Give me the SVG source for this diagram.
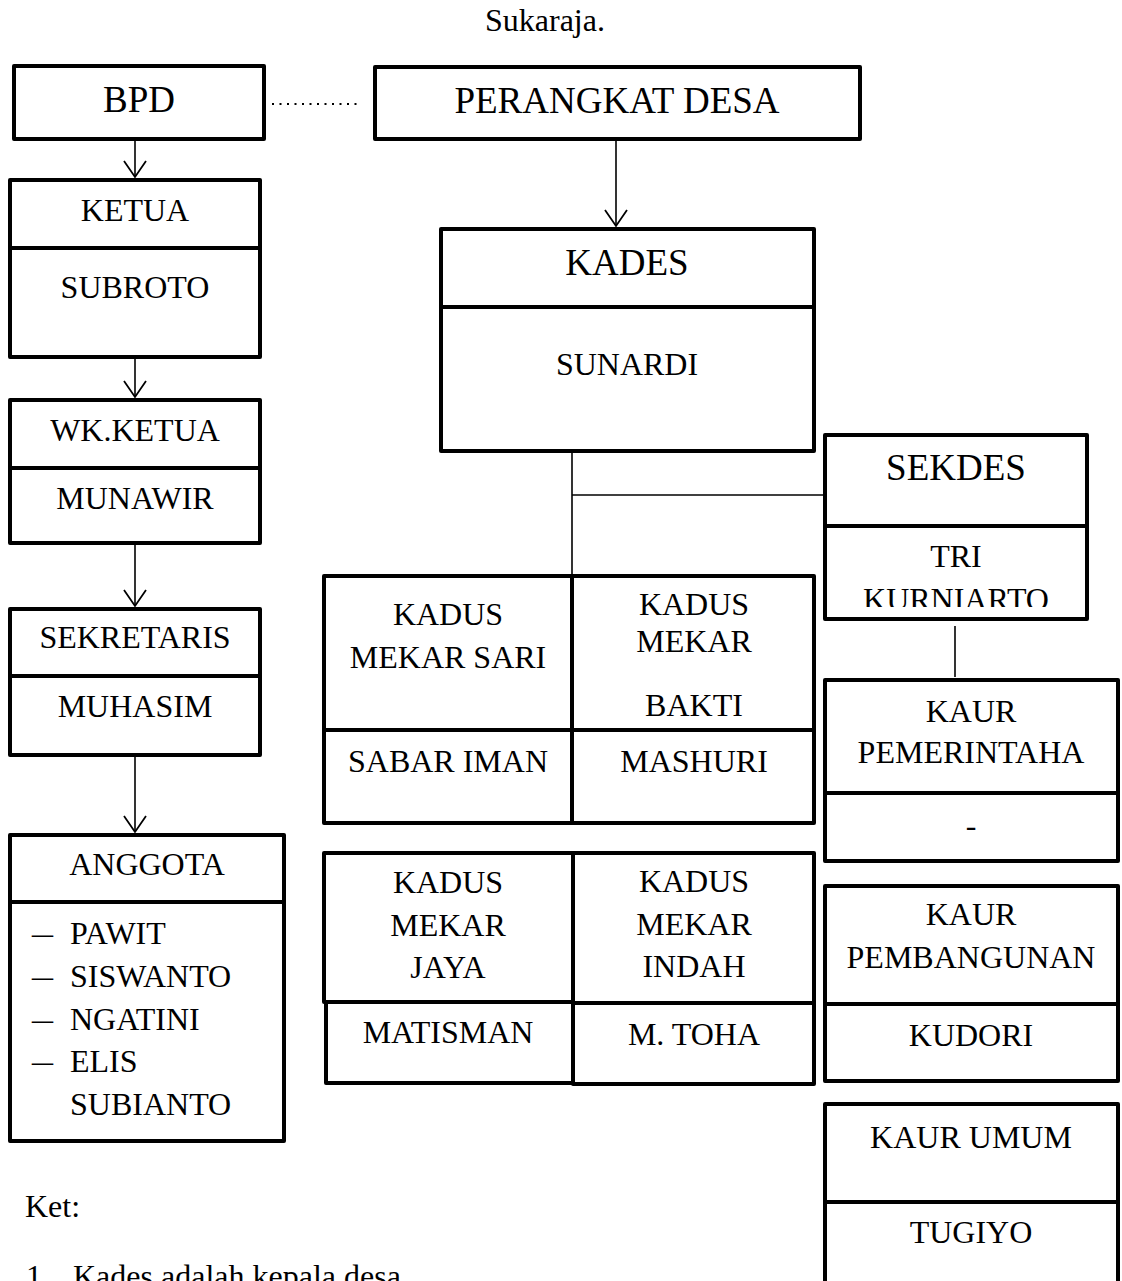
<svg xmlns="http://www.w3.org/2000/svg" width="1122" height="1281" viewBox="0 0 1122 1281">
<style>
  .box { fill: #fff; stroke: #000; stroke-width: 4; stroke-linejoin: round; }
  .div { stroke: #000; stroke-width: 4; fill: none; }
  .t { font-family: "Liberation Serif", "Times New Roman", serif; font-size: 32px; fill: #000; text-anchor: middle; }
  .big { font-size: 37px; }
  .s { text-anchor: start; }
  .conn { stroke: #000; stroke-width: 1.6; fill: none; }
  .dot { stroke: #000; stroke-width: 2; stroke-dasharray: 2 5.5; fill: none; }
</style>
<defs>
  <marker id="arr" markerUnits="userSpaceOnUse" markerWidth="30" markerHeight="30" refX="0" refY="0" orient="auto" overflow="visible">
    <path d="M-16,-11 L0,0 L-16,11" fill="none" stroke="#000" stroke-width="1.8"/>
  </marker>
  <clipPath id="clipSek"><rect x="825" y="528" width="262" height="79"/></clipPath>
</defs>
<rect width="1122" height="1281" fill="#fff"/>

<text class="t s" x="485" y="31">Sukaraja.</text>

<g id="connectors">
  <line class="dot" x1="272" y1="104" x2="362" y2="104"/>
  <line class="conn" x1="135" y1="141" x2="135" y2="177" marker-end="url(#arr)"/>
  <line class="conn" x1="135" y1="359" x2="135" y2="397" marker-end="url(#arr)"/>
  <line class="conn" x1="135" y1="545" x2="135" y2="606" marker-end="url(#arr)"/>
  <line class="conn" x1="135" y1="757" x2="135" y2="832" marker-end="url(#arr)"/>
  <line class="conn" x1="616" y1="141" x2="616" y2="226" marker-end="url(#arr)"/>
  <line class="conn" x1="572" y1="453" x2="572" y2="575"/>
  <line class="conn" x1="572" y1="495" x2="823" y2="495"/>
  <line class="conn" x1="955" y1="626" x2="955" y2="677"/>
</g>

<g id="bpd">
  <rect class="box" x="14" y="66" width="250" height="73"/>
  <text class="t big" x="139" y="112">BPD</text>
</g>

<g id="perangkat-desa">
  <rect class="box" x="375" y="67" width="485" height="72"/>
  <text class="t big" x="617" y="113">PERANGKAT DESA</text>
</g>

<g id="ketua">
  <rect class="box" x="10" y="180" width="250" height="177"/>
  <line class="div" x1="10" y1="248" x2="260" y2="248"/>
  <text class="t" x="135" y="221">KETUA</text>
  <text class="t" x="135" y="298">SUBROTO</text>
</g>

<g id="wk-ketua">
  <rect class="box" x="10" y="400" width="250" height="143"/>
  <line class="div" x1="10" y1="468" x2="260" y2="468"/>
  <text class="t" x="135" y="441">WK.KETUA</text>
  <text class="t" x="135" y="509">MUNAWIR</text>
</g>

<g id="sekretaris">
  <rect class="box" x="10" y="609" width="250" height="146"/>
  <line class="div" x1="10" y1="676" x2="260" y2="676"/>
  <text class="t" x="135" y="648">SEKRETARIS</text>
  <text class="t" x="135" y="717">MUHASIM</text>
</g>

<g id="anggota">
  <rect class="box" x="10" y="835" width="274" height="306"/>
  <line class="div" x1="10" y1="902" x2="284" y2="902"/>
  <text class="t" x="147" y="875">ANGGOTA</text>
  <text class="t s" x="32" y="944" textLength="21" lengthAdjust="spacingAndGlyphs">–</text>
  <text class="t s" x="70" y="944">PAWIT</text>
  <text class="t s" x="32" y="987" textLength="21" lengthAdjust="spacingAndGlyphs">–</text>
  <text class="t s" x="70" y="987">SISWANTO</text>
  <text class="t s" x="32" y="1030" textLength="21" lengthAdjust="spacingAndGlyphs">–</text>
  <text class="t s" x="70" y="1030">NGATINI</text>
  <text class="t s" x="32" y="1072" textLength="21" lengthAdjust="spacingAndGlyphs">–</text>
  <text class="t s" x="70" y="1072">ELIS</text>
  <text class="t s" x="70" y="1115">SUBIANTO</text>
</g>

<g id="kades">
  <rect class="box" x="441" y="229" width="373" height="222"/>
  <line class="div" x1="441" y1="307" x2="814" y2="307"/>
  <text class="t big" x="627" y="275">KADES</text>
  <text class="t" x="627" y="375">SUNARDI</text>
</g>

<g id="sekdes">
  <rect class="box" x="825" y="435" width="262" height="184"/>
  <line class="div" x1="825" y1="526" x2="1087" y2="526"/>
  <text class="t big" x="956" y="480">SEKDES</text>
  <text class="t" x="956" y="567">TRI</text>
  <text class="t" x="956" y="610" clip-path="url(#clipSek)">KURNIARTO</text>
</g>

<g id="kaur-pemerintahan">
  <rect class="box" x="825" y="680" width="293" height="181"/>
  <line class="div" x1="825" y1="793" x2="1118" y2="793"/>
  <text class="t" x="971" y="722">KAUR</text>
  <text class="t" x="971" y="763">PEMERINTAHA</text>
  <text class="t" x="971" y="836">-</text>
</g>

<g id="kaur-pembangunan">
  <rect class="box" x="825" y="886" width="293" height="195"/>
  <line class="div" x1="825" y1="1004" x2="1118" y2="1004"/>
  <text class="t" x="971" y="925">KAUR</text>
  <text class="t" x="971" y="968">PEMBANGUNAN</text>
  <text class="t" x="971" y="1046">KUDORI</text>
</g>

<g id="kaur-umum">
  <rect class="box" x="825" y="1104" width="293" height="200"/>
  <line class="div" x1="825" y1="1202" x2="1118" y2="1202"/>
  <text class="t" x="971" y="1148">KAUR UMUM</text>
  <text class="t" x="971" y="1243">TUGIYO</text>
</g>

<g id="kadus-mekar-sari">
  <rect class="box" x="324" y="576" width="248" height="247"/>
  <line class="div" x1="324" y1="730" x2="572" y2="730"/>
  <text class="t" x="448" y="625">KADUS</text>
  <text class="t" x="448" y="668">MEKAR SARI</text>
  <text class="t" x="448" y="772">SABAR IMAN</text>
</g>

<g id="kadus-mekar-bakti">
  <rect class="box" x="572" y="576" width="242" height="247"/>
  <line class="div" x1="572" y1="730" x2="814" y2="730"/>
  <text class="t" x="694" y="615">KADUS</text>
  <text class="t" x="694" y="652">MEKAR</text>
  <text class="t" x="694" y="716">BAKTI</text>
  <text class="t" x="694" y="772">MASHURI</text>
</g>

<g id="kadus-mekar-jaya">
  <rect class="box" x="324" y="853" width="249" height="149"/>
  <rect class="box" x="326" y="1002" width="247" height="81"/>
  <text class="t" x="448" y="893">KADUS</text>
  <text class="t" x="448" y="936">MEKAR</text>
  <text class="t" x="448" y="978">JAYA</text>
  <text class="t" x="448" y="1043">MATISMAN</text>
</g>

<g id="kadus-mekar-indah">
  <rect class="box" x="573" y="853" width="241" height="231"/>
  <line class="div" x1="573" y1="1003" x2="814" y2="1003"/>
  <text class="t" x="694" y="892">KADUS</text>
  <text class="t" x="694" y="935">MEKAR</text>
  <text class="t" x="694" y="977">INDAH</text>
  <text class="t" x="694" y="1045">M. TOHA</text>
</g>

<g id="keterangan">
  <text class="t s" x="25" y="1217">Ket:</text>
  <text class="t s" x="26" y="1287">1.</text>
  <text class="t s" x="73" y="1287">Kades adalah kepala desa</text>
</g>
</svg>
